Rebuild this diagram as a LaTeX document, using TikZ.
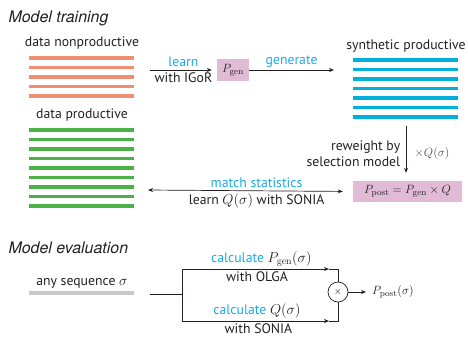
\documentclass[tikz,border=0pt]{standalone}
\usepackage[no-math]{fontspec}
\setmainfont{PT Sans}
\newfontfamily\headfont{TeX Gyre Heros}
\usetikzlibrary{arrows.meta}
\definecolor{orangeL}{RGB}{240,142,116}
\definecolor{greenL}{RGB}{76,178,72}
\definecolor{blueL}{RGB}{0,176,218}
\definecolor{cyanT}{RGB}{28,170,226}
\definecolor{pinkB}{RGB}{225,186,214}
\definecolor{grayL}{RGB}{200,202,206}
\definecolor{ink}{RGB}{35,31,32}
\tikzset{
  head/.style={anchor=base west, font=\headfont\itshape\fontsize{16}{18}\selectfont, text=ink},
  lab/.style={font=\fontsize{13.8}{16}\selectfont, text=ink, inner sep=2.5bp},
  cyanlab/.style={font=\fontsize{13.8}{16}\selectfont, text=cyanT, inner sep=2.5bp},
  pinkbox/.style={fill=pinkB, inner sep=0, text=ink, font=\fontsize{12.5}{14}\selectfont},
  arr/.style={-{Stealth[length=5bp,width=4bp]}, draw=ink, line width=0.7bp},
  plain/.style={draw=ink, line width=0.7bp},
  seqline/.style={line width=3.6bp},
}
\begin{document}
\begin{tikzpicture}[x=1bp,y=-1bp]
\useasboundingbox (0,0) rectangle (468,337);
% --- Model training ---
\node[head] (h1) at (5,22) {Model training};
\node[lab] (dn) at (82,43) {data nonproductive};
\foreach \i in {0,...,4} \draw[seqline, orangeL] (29,57.7+9.6*\i) -- (134,57.7+9.6*\i);
\node[lab] (dp) at (82,115) {data productive};
\foreach \i in {0,...,8} \draw[seqline, greenL] (29,130+9.5*\i) -- (134,130+9.5*\i);
\node[lab] (sp) at (406,46) {synthetic productive};
\foreach \i in {0,...,6} \draw[seqline, blueL] (353,60+9.5*\i) -- (458,60+9.5*\i);

\node[pinkbox, minimum width=32bp, minimum height=22bp] (pgen) at (233,70) {$P_{\rm gen}$};
\coordinate (l0) at (150,70);
\draw[arr, shorten >=5bp] (l0) -- (pgen.west)
  node[cyanlab, midway, above] (learn) {learn}
  node[lab, midway, below] (igor) {with IGoR};
\coordinate (g1) at (334,70);
\draw[arr] (pgen.east) -- (g1) node[cyanlab, midway, above] (gen) {generate};

\node[pinkbox, minimum width=109bp, minimum height=21bp] (ppost) at (407.5,191.5)
  {$P_{\rm post}=P_{\rm gen}\times Q$};
\coordinate (r0) at (406,126);
\draw[arr, shorten >=8bp] (r0) -- (r0 |- ppost.north)
  node[lab, midway, left=3bp, align=right] (rw) {reweight by\\selection model}
  node[midway, right=5bp, text=ink!80, font=\fontsize{12.5}{14}\selectfont] (xq) {$\times Q(\sigma)$};
\coordinate (m0) at (148,190);
\draw[{Stealth[length=5bp,width=4bp]}-{Stealth[length=5bp,width=4bp]}, draw=ink, line width=0.7bp, shorten >=10bp]
  (m0) -- (ppost.west)
  node[cyanlab, pos=0.53, above] (ms) {match statistics}
  node[lab, pos=0.53, below] (lq) {learn $Q(\sigma)$ with SONIA};

% --- Model evaluation ---
\node[head] (h2) at (5,253) {Model evaluation};
\node[lab] (any) at (82,283) {any sequence $\sigma$};
\draw[seqline, grayL] (29,293) -- (134,293);

\coordinate (e0) at (150,294);
\coordinate (e1) at (182,294);
\coordinate (t0) at (182,269);
\coordinate (b0) at (182,321);
\coordinate (t1) at (329,269);
\coordinate (b1) at (329,321);
\node[circle, draw=ink, line width=0.7bp, minimum size=20bp, inner sep=0] (mul) at (338,292) {$\times$};
\draw[plain] (e0) -- (e1);
\draw[plain] (t0) -- (b0);
\draw[arr] (t0) -- (t1)
  node[cyanlab, pos=0.54, above] (c1) {calculate \textcolor{ink}{$P_{\rm gen}(\sigma)$}}
  node[lab, pos=0.51, below] (olga) {with OLGA};
\draw[plain] (t1) -| (mul.north);
\draw[arr] (b0) -- (b1)
  node[cyanlab, pos=0.51, above] (c2) {calculate \textcolor{ink}{$Q(\sigma)$}}
  node[lab, pos=0.52, below] (sonia) {with SONIA};
\draw[plain] (b1) -| (mul.south);
\coordinate (o1) at (366,292);
\draw[arr] (mul.east) -- (o1);
\node[anchor=west, text=ink, inner sep=0, font=\fontsize{12.5}{14}\selectfont] (pp) at (372,292) {$P_{\rm post}(\sigma)$};
\end{tikzpicture}
\end{document}
